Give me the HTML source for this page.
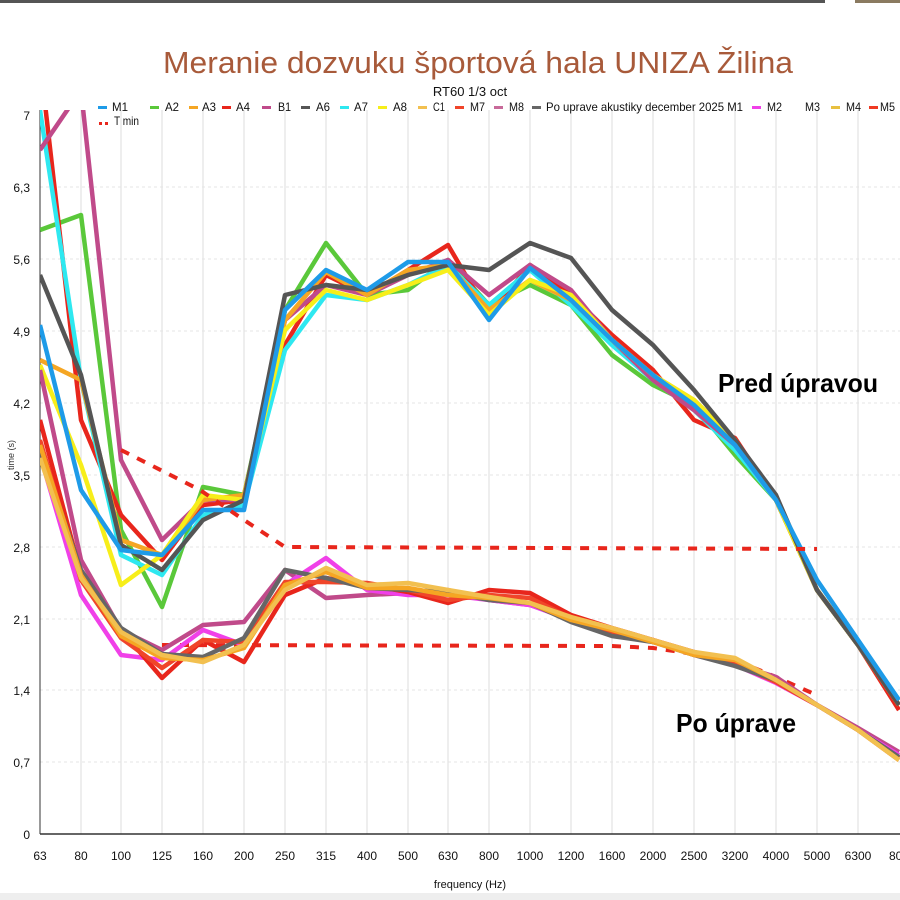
<!DOCTYPE html>
<html><head><meta charset="utf-8"><style>
html,body{margin:0;padding:0;background:#fff}
svg{display:block}
text{font-family:"Liberation Sans",sans-serif}
</style></head><body>
<svg width="900" height="900" viewBox="0 0 900 900" xmlns="http://www.w3.org/2000/svg">
<rect width="900" height="900" fill="#fff"/>
<rect x="0" y="0" width="825" height="3" fill="#555"/>
<rect x="855" y="0" width="45" height="3" fill="#8a7a60"/>
<text x="163" y="73" textLength="630" lengthAdjust="spacingAndGlyphs" font-size="31" fill="#a85a3a">Meranie dozvuku športová hala UNIZA Žilina</text>
<text x="470" y="96" text-anchor="middle" font-size="13" fill="#111">RT60 1/3 oct</text>
<g stroke="#ddd" stroke-width="1">
<line x1="81" y1="110" x2="81" y2="834"/><line x1="121" y1="110" x2="121" y2="834"/><line x1="162" y1="110" x2="162" y2="834"/><line x1="203" y1="110" x2="203" y2="834"/><line x1="244" y1="110" x2="244" y2="834"/><line x1="285" y1="110" x2="285" y2="834"/><line x1="326" y1="110" x2="326" y2="834"/><line x1="367" y1="110" x2="367" y2="834"/><line x1="408" y1="110" x2="408" y2="834"/><line x1="448" y1="110" x2="448" y2="834"/><line x1="489" y1="110" x2="489" y2="834"/><line x1="530" y1="110" x2="530" y2="834"/><line x1="571" y1="110" x2="571" y2="834"/><line x1="612" y1="110" x2="612" y2="834"/><line x1="653" y1="110" x2="653" y2="834"/><line x1="694" y1="110" x2="694" y2="834"/><line x1="735" y1="110" x2="735" y2="834"/><line x1="776" y1="110" x2="776" y2="834"/><line x1="817" y1="110" x2="817" y2="834"/><line x1="858" y1="110" x2="858" y2="834"/>
</g>
<g stroke="#e4e4e4" stroke-width="1" stroke-dasharray="3,3">
<line x1="40" y1="187" x2="900" y2="187"/><line x1="40" y1="259" x2="900" y2="259"/><line x1="40" y1="331" x2="900" y2="331"/><line x1="40" y1="403" x2="900" y2="403"/><line x1="40" y1="475" x2="900" y2="475"/><line x1="40" y1="547" x2="900" y2="547"/><line x1="40" y1="619" x2="900" y2="619"/><line x1="40" y1="690" x2="900" y2="690"/><line x1="40" y1="762" x2="900" y2="762"/>
</g>
<line x1="40" y1="110" x2="40" y2="834" stroke="#333" stroke-width="1"/>
<line x1="40" y1="834" x2="900" y2="834" stroke="#333" stroke-width="1.5"/>
<g font-size="12" fill="#111" text-anchor="end">
<text x="30" y="120">7</text><text x="30" y="192">6,3</text><text x="30" y="264">5,6</text><text x="30" y="336">4,9</text><text x="30" y="408">4,2</text><text x="30" y="480">3,5</text><text x="30" y="552">2,8</text><text x="30" y="624">2,1</text><text x="30" y="695">1,4</text><text x="30" y="767">0,7</text><text x="30" y="839">0</text>
</g>
<text x="14" y="470" font-size="9" fill="#333" transform="rotate(-90 14 470)">time (s)</text>
<g font-size="12" fill="#111" text-anchor="middle">
<text x="40" y="860">63</text><text x="81" y="860">80</text><text x="121" y="860">100</text><text x="162" y="860">125</text><text x="203" y="860">160</text><text x="244" y="860">200</text><text x="285" y="860">250</text><text x="326" y="860">315</text><text x="367" y="860">400</text><text x="408" y="860">500</text><text x="448" y="860">630</text><text x="489" y="860">800</text><text x="530" y="860">1000</text><text x="571" y="860">1200</text><text x="612" y="860">1600</text><text x="653" y="860">2000</text><text x="694" y="860">2500</text><text x="735" y="860">3200</text><text x="776" y="860">4000</text><text x="817" y="860">5000</text><text x="858" y="860">6300</text><text x="899" y="860">800</text>
<text x="470" y="888" font-size="11">frequency (Hz)</text>
</g>
<rect x="0" y="893" width="900" height="7" fill="#eee"/>
<!-- legend -->
<g font-size="12" fill="#111">
<rect x="98" y="106" width="9" height="3" fill="#1e9be8"/><text x="112" y="111" textLength="16" lengthAdjust="spacingAndGlyphs">M1</text>
<rect x="150" y="106" width="9" height="3" fill="#5ac83a"/><text x="165" y="111" textLength="14" lengthAdjust="spacingAndGlyphs">A2</text>
<rect x="189" y="106" width="9" height="3" fill="#f5a623"/><text x="202" y="111" textLength="14" lengthAdjust="spacingAndGlyphs">A3</text>
<rect x="222" y="106" width="9" height="3" fill="#e8261c"/><text x="236" y="111" textLength="14" lengthAdjust="spacingAndGlyphs">A4</text>
<rect x="262" y="106" width="9" height="3" fill="#c04a8a"/><text x="278" y="111" textLength="13" lengthAdjust="spacingAndGlyphs">B1</text>
<rect x="301" y="106" width="9" height="3" fill="#555"/><text x="316" y="111" textLength="14" lengthAdjust="spacingAndGlyphs">A6</text>
<rect x="340" y="106" width="9" height="3" fill="#2ee8f0"/><text x="354" y="111" textLength="14" lengthAdjust="spacingAndGlyphs">A7</text>
<rect x="378" y="106" width="9" height="3" fill="#f7ee1a"/><text x="393" y="111" textLength="14" lengthAdjust="spacingAndGlyphs">A8</text>
<rect x="418" y="106" width="9" height="3" fill="#f2c050"/><text x="433" y="111" textLength="12" lengthAdjust="spacingAndGlyphs">C1</text>
<rect x="455" y="106" width="9" height="3" fill="#f0452a"/><text x="470" y="111" textLength="15" lengthAdjust="spacingAndGlyphs">M7</text>
<rect x="494" y="106" width="9" height="3" fill="#c86a9a"/><text x="509" y="111" textLength="15" lengthAdjust="spacingAndGlyphs">M8</text>
<rect x="532" y="106" width="9" height="3" fill="#666"/><text x="546" y="111" textLength="197" lengthAdjust="spacingAndGlyphs">Po uprave akustiky december 2025 M1</text>
<rect x="752" y="106" width="9" height="3" fill="#f040e8"/><text x="767" y="111" textLength="15" lengthAdjust="spacingAndGlyphs">M2</text>
<text x="805" y="111" textLength="15" lengthAdjust="spacingAndGlyphs">M3</text>
<rect x="831" y="106" width="9" height="3" fill="#e8c040"/><text x="846" y="111" textLength="15" lengthAdjust="spacingAndGlyphs">M4</text>
<rect x="869" y="106" width="9" height="3" fill="#f03a22"/><text x="880" y="111" textLength="15" lengthAdjust="spacingAndGlyphs">M5</text>
<rect x="99" y="122" width="3" height="3" fill="#e8261c"/><rect x="105" y="122" width="3" height="3" fill="#e8261c"/><text x="114" y="125" textLength="25" lengthAdjust="spacingAndGlyphs">T min</text>
</g>
<clipPath id="c"><rect x="40" y="110" width="860" height="725"/></clipPath>
<g clip-path="url(#c)" fill="none" stroke-width="4.5" stroke-linejoin="round">
<polyline stroke="#5ac83a" points="40,230 81,215 121,530 162,607 203,487 244,495 285,310 326,243 367,295 408,290 448,260 489,305 530,285 571,305 612,355 653,385 694,405 735,455 776,500 817,590 858,645 899,700"/>
<polyline stroke="#e8261c" points="40,60 81,420 121,515 162,560 203,505 244,500 285,345 326,275 367,295 408,270 448,245 489,315 530,265 571,295 612,335 653,370 694,420 735,438 776,500 817,590 858,645 899,710"/>
<polyline stroke="#2ee8f0" points="40,110 81,380 121,555 162,575 203,515 244,505 285,350 326,295 367,300 408,285 448,265 489,305 530,270 571,305 612,345 653,380 694,410 735,450 776,500 817,590 858,645 899,700"/>
<polyline stroke="#c04a8a" points="40,150 81,90 121,460 162,540 203,500 244,500 285,320 326,285 367,295 408,275 448,260 489,295 530,265 571,290 612,340 653,380 694,410 735,445 776,500 817,590 858,645 899,705"/>
<polyline stroke="#f5a623" points="40,360 81,380 121,540 162,555 203,500 244,495 285,320 326,272 367,295 408,270 448,265 489,310 530,280 571,300 612,340 653,375 694,400 735,440 776,500 817,590 858,645 899,705"/>
<polyline stroke="#f7ee1a" points="40,365 81,465 121,585 162,555 203,495 244,500 285,330 326,290 367,300 408,285 448,270 489,315 530,280 571,295 612,340 653,375 694,400 735,440 776,500 817,590 858,645 899,705"/>
<polyline stroke="#555" points="40,275 81,375 121,545 162,570 203,520 244,500 285,295 326,285 367,290 408,275 448,265 489,270 530,243 571,258 612,310 653,345 694,390 735,440 776,495 817,590 858,645 899,705"/>
<polyline stroke="#1e9be8" points="40,325 81,490 121,550 162,555 203,510 244,510 285,310 326,270 367,290 408,262 448,262 489,320 530,268 571,300 612,340 653,375 694,405 735,445 776,500 817,580 858,640 899,700"/>
<polyline stroke="#e8261c" stroke-width="4" stroke-dasharray="9,9" points="121,450 200,490 244,520 285,547 817,549"/>
<polyline stroke="#e8261c" stroke-width="4" stroke-dasharray="9,9" points="162,645 612,646 653,648 735,660 776,677 812,693"/>
<polyline stroke="#c04a8a" points="40,370 81,560 121,630 162,650 203,625 244,622 285,570 326,598 367,595 408,593 448,590 489,600 530,605 571,618 612,632 653,642 694,652 735,664 776,677 817,705 858,728 899,752"/>
<polyline stroke="#f040e8" points="40,455 81,595 121,655 162,660 203,630 244,645 285,585 326,558 367,590 408,595 448,595 489,600 530,605 571,620 612,630 653,640 694,655 735,665 776,683 817,705 858,730 899,755"/>
<polyline stroke="#e8261c" points="40,420 81,575 121,630 162,678 203,640 244,662 285,595 326,578 367,585 408,592 448,603 489,590 530,593 571,615 612,628 653,640 694,652 735,662 776,682 817,705 858,730 899,760"/>
<polyline stroke="#f0452a" points="40,440 81,580 121,638 162,668 203,640 244,642 285,582 326,582 367,583 408,590 448,600 489,595 530,598 571,618 612,632 653,640 694,654 735,664 776,682 817,705 858,730 899,758"/>
<polyline stroke="#666" points="40,450 81,570 121,628 162,654 203,657 244,638 285,570 326,578 367,588 408,590 448,592 489,600 530,603 571,622 612,636 653,642 694,655 735,666 776,680 817,705 858,730 899,757"/>
<polyline stroke="#f5a623" points="40,445 81,575 121,636 162,658 203,660 244,648 285,585 326,572 367,588 408,588 448,595 489,598 530,603 571,620 612,630 653,642 694,655 735,660 776,680 817,705 858,730 899,760"/>
<polyline stroke="#f2c050" points="40,458 81,578 121,632 162,655 203,662 244,645 285,590 326,568 367,585 408,583 448,590 489,597 530,603 571,617 612,628 653,640 694,652 735,658 776,680 817,705 858,730 899,760"/>
</g>
<text x="718" y="392" font-size="26" font-weight="bold" fill="#000" textLength="160" lengthAdjust="spacingAndGlyphs">Pred úpravou</text>
<text x="676" y="732" font-size="26" font-weight="bold" fill="#000" textLength="120" lengthAdjust="spacingAndGlyphs">Po úprave</text>
</svg>
</body></html>
